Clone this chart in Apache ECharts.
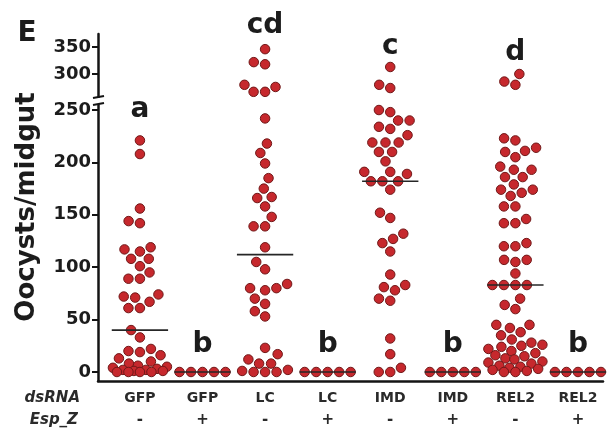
<!DOCTYPE html>
<html><head><meta charset="utf-8">
<script src="https://cdn.jsdelivr.net/npm/echarts@6/dist/echarts.min.js"></script>
<style>html,body{margin:0;padding:0;background:#fff}#c{width:608px;height:430px}</style>
</head><body><div id="c"></div>
<script>
// ---------------- data ----------------
const categories = ['GFP', 'GFP', 'LC', 'LC', 'IMD', 'IMD', 'REL2', 'REL2'];
const espZ = ['-', '+', '-', '+', '-', '+', '-', '+'];
const sigLetters = ['a', 'b', 'cd', 'b', 'c', 'b', 'd', 'b'];
const gfpMinus = [221, 208, 156, 144, 142, 119, 117, 115, 108, 108, 101, 95, 89, 89, 74, 72, 71, 67, 61, 61, 40, 33, 22, 20, 19, 16, 13, 10, 8, 6, 5, 4, 3, 2, 2, 1, 1, 0, 0, 0, 0];
const gfpPlus = [0, 0, 0, 0, 0];
const lcMinus = [346, 322, 318, 280, 276, 267, 267, 242, 218, 209, 199, 185, 175, 167, 166, 158, 148, 139, 139, 119, 105, 98, 84, 80, 80, 78, 70, 65, 58, 53, 23, 17, 12, 8, 8, 2, 1, 0, 0, 0];
const lcPlus = [0, 0, 0, 0, 0];
const imdMinus = [313, 280, 274, 250, 248, 240, 240, 234, 232, 226, 219, 219, 219, 210, 210, 201, 191, 191, 189, 182, 182, 182, 174, 152, 147, 132, 127, 123, 115, 93, 83, 81, 78, 70, 68, 32, 17, 4, 0, 0];
const imdPlus = [0, 0, 0, 0, 0];
const rel2Minus = [300, 286, 280, 223, 221, 214, 211, 210, 205, 196, 193, 193, 186, 186, 179, 174, 174, 171, 168, 158, 158, 146, 142, 142, 123, 120, 120, 107, 107, 105, 94, 83, 83, 83, 83, 70, 64, 60, 45, 45, 42, 38, 35, 31, 28, 26, 25, 24, 22, 20, 18, 16, 15, 13, 12, 10, 9, 8, 6, 5, 4, 3, 2, 1, 0, 0];
const rel2Plus = [0, 0, 0, 0, 0];
const groups = [gfpMinus, gfpPlus, lcMinus, lcPlus, imdMinus, imdPlus, rel2Minus, rel2Plus];
const lowerTicks = [0, 50, 100, 150, 200, 250];
const upperTicks = [300, 350];

// ---------------- layout ----------------
const FONT = 'DejaVu Sans';
const W = 608, H = 430;
const GRID_LEFT = 98, GRID_RIGHT = 5;
const X_MIN = -0.67, X_MAX = 7.4;
const LOW = { top: 105, height: 276, min: -8.6, max: 254.8 };
const UP = { top: 34, height: 63, min: 257.4, max: 374.1 };
const plotW = W - GRID_LEFT - GRID_RIGHT;
const pxPerX = plotW / (X_MAX - X_MIN);
const DOT = 9.5, SEP = 11.5, MAXW = 27;

function yPix(v) {
  if (v > LOW.max) return UP.top + (UP.max - v) / (UP.max - UP.min) * UP.height;
  return LOW.top + (LOW.max - v) / (LOW.max - LOW.min) * LOW.height;
}
function median(a) {
  const s = a.slice().sort((p, q) => p - q);
  const n = s.length;
  return n % 2 ? s[(n - 1) / 2] : (s[n / 2 - 1] + s[n / 2]) / 2;
}
// deterministic beeswarm layout (pixel offsets), limited width -> overlap when dense
function swarm(vals) {
  const order = vals.map((v, i) => i).sort((a, b) => vals[a] - vals[b]);
  const placed = [], xs = new Array(vals.length);
  for (const i of order) {
    const y = yPix(vals[i]);
    const forb = [];
    for (const p of placed) {
      const dy = Math.abs(p.y - y);
      if (dy < SEP) { const dx = Math.sqrt(SEP * SEP - dy * dy); forb.push([p.x - dx, p.x + dx]); }
    }
    const cands = [0];
    forb.forEach(f => cands.push(f[0], f[1]));
    cands.sort((a, b) => Math.abs(a) - Math.abs(b));
    let x = null;
    for (const c of cands) {
      if (Math.abs(c) > MAXW) continue;
      if (forb.every(f => c <= f[0] + 1e-6 || c >= f[1] - 1e-6)) { x = c; break; }
    }
    if (x === null) {
      let best = -1; x = 0;
      for (let c = -MAXW; c <= MAXW; c += 1) {
        let md = Infinity;
        for (const p of placed) { const d = Math.hypot(p.x - c, p.y - y); if (d < md) md = d; }
        if (md > best + 1e-6 || (Math.abs(md - best) < 1e-6 && Math.abs(c) < Math.abs(x))) { best = md; x = c; }
      }
    }
    placed.push({ x, y }); xs[i] = x;
  }
  return xs;
}

const lowerPts = [], upperPts = [];
groups.forEach((vals, gi) => {
  const offs = swarm(vals);
  vals.forEach((v, k) => {
    const pt = [gi + offs[k] / pxPerX, v];
    if (v > LOW.max) upperPts.push(pt); else lowerPts.push(pt);
  });
});
const medians = groups.map((g, i) => [i, median(g)]);

const dotStyle = { color: '#c6282d', borderColor: '#701818', borderWidth: 1, opacity: 1 };
const axisLineStyle = { color: '#141414', width: 2.5 };
const tickLabel = { fontFamily: FONT, fontWeight: 'bold', fontSize: 18, color: '#1c1c1c', margin: 7 };

const chart = echarts.init(document.getElementById('c'), null, { renderer: 'canvas' });
chart.setOption({
  animation: false,
  backgroundColor: '#ffffff',
  grid: [
    { left: GRID_LEFT, right: GRID_RIGHT, top: LOW.top, height: LOW.height },
    { left: GRID_LEFT, right: GRID_RIGHT, top: UP.top, height: UP.height }
  ],
  xAxis: [
    {
      gridIndex: 0, type: 'value', min: X_MIN, max: X_MAX,
      axisLine: { show: true, onZero: false, lineStyle: axisLineStyle },
      axisTick: { show: false }, splitLine: { show: false },
      axisLabel: {
        customValues: categories.map((c, i) => i),
        margin: 6,
        formatter: v => '{n|' + categories[v] + '}\n{s|' + espZ[v] + '}',
        rich: {
          n: { fontFamily: FONT, fontWeight: 'bold', fontSize: 14, color: '#2a2a2a', lineHeight: 22 },
          s: { fontFamily: FONT, fontWeight: 'bold', fontSize: 15, color: '#2a2a2a', lineHeight: 22 }
        }
      }
    },
    { gridIndex: 1, type: 'value', min: X_MIN, max: X_MAX, show: false }
  ],
  yAxis: [
    {
      gridIndex: 0, type: 'value', min: LOW.min, max: LOW.max,
      axisLine: { show: true, onZero: false, lineStyle: axisLineStyle },
      axisTick: { show: true, length: 6, customValues: lowerTicks, lineStyle: { color: '#141414', width: 2 } },
      axisLabel: Object.assign({ customValues: lowerTicks }, tickLabel),
      splitLine: { show: false }
    },
    {
      gridIndex: 1, type: 'value', min: UP.min, max: UP.max,
      axisLine: { show: true, onZero: false, lineStyle: axisLineStyle },
      axisTick: { show: true, length: 6, customValues: upperTicks, lineStyle: { color: '#141414', width: 2 } },
      axisLabel: Object.assign({ customValues: upperTicks }, tickLabel),
      splitLine: { show: false }
    }
  ],
  series: [
    { type: 'scatter', xAxisIndex: 0, yAxisIndex: 0, data: lowerPts, symbolSize: DOT, itemStyle: dotStyle, clip: false, z: 3 },
    { type: 'scatter', xAxisIndex: 1, yAxisIndex: 1, data: upperPts, symbolSize: DOT, itemStyle: dotStyle, clip: false, z: 3 },
    {
      type: 'custom', xAxisIndex: 0, yAxisIndex: 0, data: medians, z: 6, clip: false,
      renderItem: function (params, api) {
        const i = api.value(0), m = api.value(1);
        const p1 = api.coord([i - 0.45, m]), p2 = api.coord([i + 0.45, m]);
        return { type: 'line', shape: { x1: p1[0], y1: p1[1], x2: p2[0], y2: p2[1] }, style: { stroke: '#262626', lineWidth: 1.6 } };
      }
    }
  ]
});

// annotations
const letterBase = { a: 120, b: 355, cd: 36, c: 57, d: 63 };
const gr = [];
sigLetters.forEach((L, i) => {
  const x = chart.convertToPixel({ xAxisIndex: 0 }, i);
  gr.push({ type: 'text', x: x, y: letterBase[L] - 10, z: 10,
    style: { text: L, fontFamily: FONT, fontWeight: 'bold', fontSize: 28, fill: '#1c1c1c', textAlign: 'center', textVerticalAlign: 'middle' } });
});
gr.push({ type: 'text', x: 27, y: 34, z: 10,
  style: { text: 'E', fontFamily: FONT, fontWeight: 'bold', fontSize: 28, fill: '#1c1c1c', textAlign: 'center', textVerticalAlign: 'middle' } });
gr.push({ type: 'text', x: 27, y: 207, rotation: Math.PI / 2, z: 10,
  style: { text: 'Oocysts/midgut', fontFamily: FONT, fontWeight: 'bold', fontSize: 26, fill: '#1c1c1c', textAlign: 'center', textVerticalAlign: 'middle' } });
gr.push({ type: 'text', x: 80, y: 398, z: 10,
  style: { text: 'dsRNA', fontFamily: FONT, fontWeight: 'bold', fontStyle: 'italic', fontSize: 15, fill: '#2a2a2a', textAlign: 'right', textVerticalAlign: 'middle' } });
gr.push({ type: 'text', x: 78, y: 420, z: 10,
  style: { text: 'Esp_Z', fontFamily: FONT, fontWeight: 'bold', fontStyle: 'italic', fontSize: 15, fill: '#2a2a2a', textAlign: 'right', textVerticalAlign: 'middle' } });
// axis break marks
gr.push({ type: 'rect', shape: { x: 90, y: 98, width: 16, height: 6 }, style: { fill: '#ffffff' }, z: 9 });
gr.push({ type: 'line', shape: { x1: 93, y1: 98, x2: 104, y2: 96 }, style: { stroke: '#141414', lineWidth: 2 }, z: 10 });
gr.push({ type: 'line', shape: { x1: 93, y1: 105, x2: 104, y2: 103 }, style: { stroke: '#141414', lineWidth: 2 }, z: 10 });
chart.setOption({ graphic: gr });
</script>
</body></html>
